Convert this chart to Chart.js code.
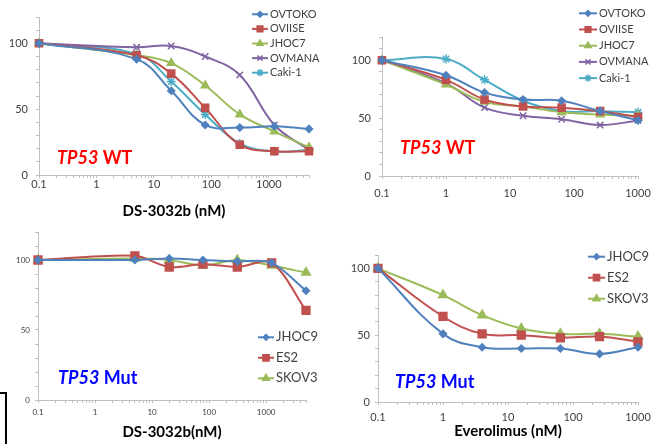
<!DOCTYPE html>
<html>
<head>
<meta charset="utf-8">
<script src="https://cdn.jsdelivr.net/npm/chart.js@4.4.0/dist/chart.umd.min.js"></script>
<style>
  html, body { margin: 0; padding: 0; background: #fff; }
  #wrap { position: relative; width: 651px; height: 444px; overflow: hidden; }
  canvas { position: absolute; }
  .tag { position: absolute; font-family: Lato, sans-serif; font-weight: bold; font-size: 18px; line-height: 20px; white-space: nowrap; }
  .tag i { font-style: italic; }
  .wt { color: #ff0000; }
  .mut { color: #0000ff; }
  #marco { position: absolute; left: -10px; top: 392px; width: 13px; height: 70px; border: 2px solid #000; }
</style>
</head>
<body>
<div id="wrap">
  <canvas id="dsWt" width="325" height="220" style="left:0;top:0"></canvas>
  <canvas id="evWt" width="345" height="220" style="left:330px;top:0"></canvas>
  <canvas id="dsMut" width="325" height="224" style="left:0;top:220px"></canvas>
  <canvas id="evMut" width="345" height="224" style="left:330px;top:220px"></canvas>
  <div class="tag wt" style="left:57px;top:147px"><i>TP53</i> WT</div>
  <div class="tag wt" style="left:400px;top:137px"><i>TP53</i> WT</div>
  <div class="tag mut" style="left:58px;top:367px"><i>TP53</i> Mut</div>
  <div class="tag mut" style="left:395px;top:371px"><i>TP53</i> Mut</div>
  <div id="marco"></div>
</div>
<script>
// Dosis (nM)
const dsDoses = [0.1, 5, 20, 78, 312, 1250, 5000];
const everoDoses = [0.1, 1, 4, 16, 64, 256, 1000];

// Etiquetas de los ejes
const xTickLabels = [0.1, 1, 10, 100, 1000];
const yTickLabels = [0, 50, 100];

// Líneas celulares
const wtLines = ['OVTOKO', 'OVIISE', 'JHOC7', 'OVMANA', 'Caki-1'];
const mutLines = ['JHOC9', 'ES2', 'SKOV3'];

// Viabilidad (%) - DS-3032b, TP53 WT
const dsWtOvtoko = [100, 88, 64, 38, 36, 37, 35];
const dsWtOviise = [100, 91, 77, 51, 23, 18, 18];
const dsWtJhoc7 = [100, 91, 85, 68, 46, 33, 21];
const dsWtOvmana = [100, 97, 98, 90, 76, 38, 19];
const dsWtCaki1 = [100, 92, 71, 46, 24, 18, 19];

// Viabilidad (%) - Everolimus, TP53 WT
const evWtOvtoko = [100, 87, 72, 66, 65, 56, 48];
const evWtOviise = [100, 83, 66, 60, 59, 56, 51];
const evWtJhoc7 = [100, 79, 64, 60, 55, 53, 52];
const evWtOvmana = [100, 80, 59, 52, 49, 44, 48];
const evWtCaki1 = [100, 101, 83, 65, 56, 56, 55];

// Viabilidad (%) - DS-3032b, TP53 Mut
const dsMutJhoc9 = [100, 100, 101, 100, 99, 98, 78];
const dsMutEs2 = [100, 103, 95, 97, 95, 98, 64];
const dsMutSkov3 = [100, 101, 100, 96, 100, 96, 91];

// Viabilidad (%) - Everolimus, TP53 Mut
const evMutJhoc9 = [100, 51, 41, 40, 40, 36, 41];
const evMutEs2 = [100, 64, 51, 50, 48, 49, 45];
const evMutSkov3 = [100, 80, 65, 55, 51, 51, 49];

const azul = '#4F81BD', rojo = '#C0504D', verde = '#9BBB59', morado = '#8064A2', cian = '#4BACC6';
const FUENTE = 'Lato, "Liberation Sans", sans-serif';

function serie(label, doses, vals, color, style, radius, tension) {
    return {
        label: label,
        data: doses.map((d, i) => ({ x: d, y: vals[i] })),
        borderColor: color,
        backgroundColor: color,
        pointBackgroundColor: color,
        pointBorderColor: color,
        pointStyle: style,
        pointRadius: radius,
        pointBorderWidth: 1.5,
        borderWidth: 2,
        tension: tension,
        clip: false
    };
}

// Marcas menores del eje logarítmico (1..9 por década)
function marcasLog(min, max) {
    const out = [];
    for (let e = Math.floor(Math.log10(min)); e <= Math.ceil(Math.log10(max)); e++) {
        for (let k = 1; k <= 9; k++) {
            const v = Number((k * Math.pow(10, e)).toPrecision(6));
            if (v >= min && v <= max) out.push(v);
        }
    }
    return out;
}

// Leyenda estilo Excel (línea + marcador) dentro del área del gráfico
const leyendaExcel = {
    id: 'leyendaExcel',
    afterDraw(chart, args, opts) {
        const ctx = chart.ctx;
        ctx.save();
        chart.data.datasets.forEach((ds, i) => {
            const y = opts.y + i * opts.gap;
            ctx.strokeStyle = ds.borderColor;
            ctx.lineWidth = 2;
            ctx.beginPath();
            ctx.moveTo(opts.x, y);
            ctx.lineTo(opts.x + opts.len, y);
            ctx.stroke();
            ctx.fillStyle = ds.pointBackgroundColor;
            ctx.strokeStyle = ds.pointBorderColor;
            ctx.lineWidth = 1.5;
            Chart.helpers.drawPoint(ctx, { pointStyle: ds.pointStyle, radius: ds.pointRadius * 0.8, rotation: 0, borderWidth: 1.5 }, opts.x + opts.len / 2, y);
            ctx.fillStyle = '#404040';
            ctx.font = opts.size + 'px ' + FUENTE;
            ctx.textBaseline = 'middle';
            ctx.textAlign = 'left';
            ctx.fillText(ds.label, opts.x + opts.len + 2, y);
        });
        ctx.restore();
    }
};

function crearGrafico(id, datasets, cfg) {
    const ctx = document.getElementById(id).getContext('2d');
    return new Chart(ctx, {
        type: 'line',
        data: { datasets: datasets },
        options: {
            responsive: false,
            animation: false,
            layout: { padding: { left: 0, top: cfg.top, right: cfg.right, bottom: 0 } },
            plugins: {
                legend: { display: false },
                tooltip: { enabled: false },
                leyendaExcel: cfg.leyenda
            },
            scales: {
                x: {
                    type: 'logarithmic',
                    min: cfg.xMin,
                    max: cfg.xMax,
                    afterBuildTicks: s => { s.ticks = marcasLog(cfg.xMin, cfg.xMax).map(v => ({ value: v })); },
                    afterFit: s => { s.height = cfg.xAlto; },
                    border: { color: '#BFBFBF' },
                    grid: { drawOnChartArea: false, tickLength: 3, color: '#BFBFBF' },
                    ticks: {
                        autoSkip: false, maxRotation: 0, padding: cfg.xPad, color: '#404040',
                        font: { family: FUENTE, size: cfg.fs },
                        callback: v => xTickLabels.includes(v) ? String(v) : ''
                    },
                    title: cfg.titulo ? {
                        display: true, text: cfg.titulo, color: '#000',
                        font: { family: FUENTE, size: 15, weight: 'bold' },
                        padding: { top: 0, bottom: cfg.tituloPad }
                    } : { display: false }
                },
                y: {
                    min: 0,
                    max: cfg.yMax,
                    afterFit: s => { s.width = cfg.yAncho; },
                    border: { color: '#BFBFBF' },
                    grid: { drawOnChartArea: false, tickLength: 3, color: '#BFBFBF' },
                    ticks: {
                        stepSize: 10, autoSkip: false, padding: cfg.yPad, color: '#404040',
                        font: { family: FUENTE, size: cfg.fs },
                        callback: v => yTickLabels.includes(v) ? String(v) : ''
                    }
                }
            }
        },
        plugins: [leyendaExcel]
    });
}

document.addEventListener('DOMContentLoaded', function() {
    crearGrafico('dsWt', [
        serie(wtLines[0], dsDoses, dsWtOvtoko, azul, 'rectRot', 3.5, 0.4),
        serie(wtLines[1], dsDoses, dsWtOviise, rojo, 'rect', 5, 0.4),
        serie(wtLines[2], dsDoses, dsWtJhoc7, verde, 'triangle', 4.5, 0.4),
        serie(wtLines[3], dsDoses, dsWtOvmana, morado, 'crossRot', 4.5, 0.4),
        serie(wtLines[4], dsDoses, dsWtCaki1, cian, 'star', 4.5, 0.4)
    ], {
        top: 17, right: 16, yAncho: 39, yPad: 8, xAlto: 45, xPad: 0, fs: 11,
        xMin: 0.1, xMax: 5000, yMax: 120, titulo: 'DS-3032b (nM)', tituloPad: 0,
        leyenda: { x: 252, len: 16, y: 14.3, gap: 14.6, size: 11 }
    });

    // Lienzo más ancho que la página: la etiqueta "1000" queda cortada como en el original
    crearGrafico('evWt', [
        serie(wtLines[0], everoDoses, evWtOvtoko, azul, 'rectRot', 3.5, 0.4),
        serie(wtLines[1], everoDoses, evWtOviise, rojo, 'rect', 5, 0.4),
        serie(wtLines[2], everoDoses, evWtJhoc7, verde, 'triangle', 4.5, 0.4),
        serie(wtLines[3], everoDoses, evWtOvmana, morado, 'crossRot', 4.5, 0.4),
        serie(wtLines[4], everoDoses, evWtCaki1, cian, 'star', 4.5, 0.4)
    ], {
        top: 37, right: 37, yAncho: 52, yPad: 8, xAlto: 44, xPad: 8, fs: 11,
        xMin: 0.1, xMax: 1000, yMax: 120, titulo: null,
        leyenda: { x: 249, len: 18, y: 13.3, gap: 16.2, size: 11 }
    });

    crearGrafico('dsMut', [
        serie(mutLines[0], dsDoses, dsMutJhoc9, azul, 'rectRot', 3.5, 0.3),
        serie(mutLines[1], dsDoses, dsMutEs2, rojo, 'rect', 5.5, 0.3),
        serie(mutLines[2], dsDoses, dsMutSkov3, verde, 'triangle', 5, 0.3)
    ], {
        top: 12, right: 19, yAncho: 38, yPad: 5, xAlto: 44, xPad: 5, fs: 8,
        xMin: 0.1, xMax: 5000, yMax: 120, titulo: 'DS-3032b(nM)', tituloPad: 3,
        leyenda: { x: 258, len: 16, y: 117.3, gap: 20.5, size: 13 }
    });

    crearGrafico('evMut', [
        serie(mutLines[0], everoDoses, evMutJhoc9, azul, 'rectRot', 3.5, 0.4),
        serie(mutLines[1], everoDoses, evMutEs2, rojo, 'rect', 5.5, 0.4),
        serie(mutLines[2], everoDoses, evMutSkov3, verde, 'triangle', 5, 0.4)
    ], {
        top: 35, right: 37, yAncho: 48, yPad: 5, xAlto: 42, xPad: 6, fs: 11,
        xMin: 0.1, xMax: 1000, yMax: 110, titulo: 'Everolimus (nM)', tituloPad: 4,
        leyenda: { x: 258, len: 17, y: 36.7, gap: 21, size: 13 }
    });
});
</script>
</body>
</html>
